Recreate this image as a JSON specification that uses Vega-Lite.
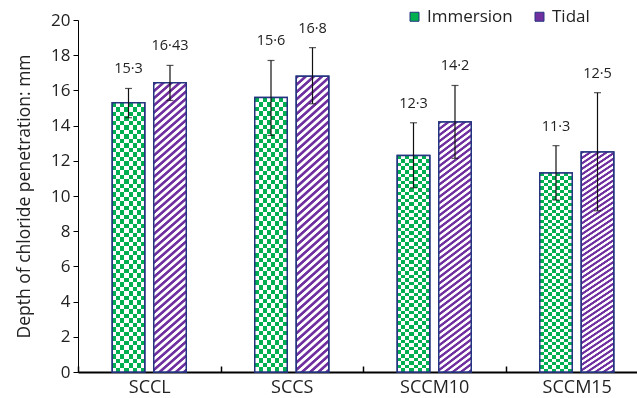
{
  "$schema": "https://vega.github.io/schema/vega-lite/v6.json",
  "autosize": {"type": "none"},
  "width": 559,
  "height": 352,
  "padding": {"left": 78, "top": 20, "right": 0, "bottom": 26},
  "background": "white",
  "config": {"view": {"stroke": null}, "font": "Open Sans"},
  "data": {"values": [
    {"cat": "SCCL", "series": "Immersion", "value": 15.3, "lo": 14.45, "hi": 16.11, "label": "15·3"},
    {"cat": "SCCL", "series": "Tidal", "value": 16.43, "lo": 15.43, "hi": 17.42, "label": "16·43"},
    {"cat": "SCCS", "series": "Immersion", "value": 15.6, "lo": 13.44, "hi": 17.7, "label": "15·6"},
    {"cat": "SCCS", "series": "Tidal", "value": 16.8, "lo": 15.24, "hi": 18.43, "label": "16·8"},
    {"cat": "SCCM10", "series": "Immersion", "value": 12.3, "lo": 10.47, "hi": 14.16, "label": "12·3"},
    {"cat": "SCCM10", "series": "Tidal", "value": 14.2, "lo": 12.14, "hi": 16.28, "label": "14·2"},
    {"cat": "SCCM15", "series": "Immersion", "value": 11.3, "lo": 9.77, "hi": 12.86, "label": "11·3"},
    {"cat": "SCCM15", "series": "Tidal", "value": 12.5, "lo": 9.16, "hi": 15.87, "label": "12·5"}
  ]},
  "encoding": {
    "x": {"field": "cat", "type": "nominal", "sort": ["SCCL", "SCCS", "SCCM10", "SCCM15"],
      "scale": {"range": [0, 570], "paddingInner": 0, "paddingOuter": 0},
      "axis": {"title": null, "labelAngle": 0, "domainColor": "#000", "domainWidth": 2, "tickColor": "#000", "tickWidth": 1.5, "tickBand": "extent", "tickSize": -6, "labelFontSize": 18, "labelColor": "#222", "labelPadding": 12}},
    "xOffset": {"field": "series", "type": "nominal", "scale": {"domain": ["Immersion", "Tidal"], "paddingInner": 0.217, "paddingOuter": 0.8255}},
    "y": {"field": "value", "type": "quantitative", "title": "Depth of chloride penetration: mm",
      "scale": {"domain": [0, 20], "nice": false},
      "axis": {"values": [0, 2, 4, 6, 8, 10, 12, 14, 16, 18, 20], "grid": false, "domainColor": "#000", "tickColor": "#000", "tickSize": 5, "labelFontSize": 17, "labelColor": "#222", "labelPadding": 3, "titleFontSize": 17.5, "titleFontWeight": "normal", "titleColor": "#222", "titlePadding": 17}}
  },
  "layer": [
    {"mark": {"type": "bar", "stroke": "#253580", "strokeWidth": 1.5},
     "encoding": {"color": {"field": "series", "type": "nominal",
       "scale": {"domain": ["Immersion", "Tidal"], "range": ["#00b050", "#7030a0"]},
       "legend": {"title": null, "orient": "none", "legendX": 328, "legendY": -12, "direction": "horizontal", "symbolType": "square", "symbolSize": 81, "symbolStrokeColor": "#253580", "symbolStrokeWidth": 1, "labelFontSize": 17, "labelColor": "#222", "columnPadding": 18, "labelOffset": 4}}}},
    {"transform": [{"filter": "datum.series === 'Immersion'"}],
     "mark": {"type": "bar", "fill": {"gradient": "linear", "x1": 0, "y1": 0, "x2": 1, "y2": 0, "stops": [
       {"offset": 0, "color": "#000000"}, {"offset": 0.125, "color": "#000000"}, {"offset": 0.125, "color": "#ffffff"}, {"offset": 0.25, "color": "#ffffff"},
       {"offset": 0.25, "color": "#000000"}, {"offset": 0.375, "color": "#000000"}, {"offset": 0.375, "color": "#ffffff"}, {"offset": 0.5, "color": "#ffffff"},
       {"offset": 0.5, "color": "#000000"}, {"offset": 0.625, "color": "#000000"}, {"offset": 0.625, "color": "#ffffff"}, {"offset": 0.75, "color": "#ffffff"},
       {"offset": 0.75, "color": "#000000"}, {"offset": 0.875, "color": "#000000"}, {"offset": 0.875, "color": "#ffffff"}, {"offset": 1, "color": "#ffffff"}
     ]}}},
    {"transform": [{"filter": "datum.series === 'Immersion'"}],
     "mark": {"type": "bar", "blend": "difference", "fill": {"gradient": "linear", "x1": 0, "y1": 0, "x2": 0, "y2": 1, "stops": [
       {"offset": 0, "color": "#000000"}, {"offset": 0.0167, "color": "#000000"}, {"offset": 0.0167, "color": "#ffffff"}, {"offset": 0.0333, "color": "#ffffff"},
       {"offset": 0.0333, "color": "#000000"}, {"offset": 0.05, "color": "#000000"}, {"offset": 0.05, "color": "#ffffff"}, {"offset": 0.0667, "color": "#ffffff"},
       {"offset": 0.0667, "color": "#000000"}, {"offset": 0.0833, "color": "#000000"}, {"offset": 0.0833, "color": "#ffffff"}, {"offset": 0.1, "color": "#ffffff"},
       {"offset": 0.1, "color": "#000000"}, {"offset": 0.1167, "color": "#000000"}, {"offset": 0.1167, "color": "#ffffff"}, {"offset": 0.1333, "color": "#ffffff"},
       {"offset": 0.1333, "color": "#000000"}, {"offset": 0.15, "color": "#000000"}, {"offset": 0.15, "color": "#ffffff"}, {"offset": 0.1667, "color": "#ffffff"},
       {"offset": 0.1667, "color": "#000000"}, {"offset": 0.1833, "color": "#000000"}, {"offset": 0.1833, "color": "#ffffff"}, {"offset": 0.2, "color": "#ffffff"},
       {"offset": 0.2, "color": "#000000"}, {"offset": 0.2167, "color": "#000000"}, {"offset": 0.2167, "color": "#ffffff"}, {"offset": 0.2333, "color": "#ffffff"},
       {"offset": 0.2333, "color": "#000000"}, {"offset": 0.25, "color": "#000000"}, {"offset": 0.25, "color": "#ffffff"}, {"offset": 0.2667, "color": "#ffffff"},
       {"offset": 0.2667, "color": "#000000"}, {"offset": 0.2833, "color": "#000000"}, {"offset": 0.2833, "color": "#ffffff"}, {"offset": 0.3, "color": "#ffffff"},
       {"offset": 0.3, "color": "#000000"}, {"offset": 0.3167, "color": "#000000"}, {"offset": 0.3167, "color": "#ffffff"}, {"offset": 0.3333, "color": "#ffffff"},
       {"offset": 0.3333, "color": "#000000"}, {"offset": 0.35, "color": "#000000"}, {"offset": 0.35, "color": "#ffffff"}, {"offset": 0.3667, "color": "#ffffff"},
       {"offset": 0.3667, "color": "#000000"}, {"offset": 0.3833, "color": "#000000"}, {"offset": 0.3833, "color": "#ffffff"}, {"offset": 0.4, "color": "#ffffff"},
       {"offset": 0.4, "color": "#000000"}, {"offset": 0.4167, "color": "#000000"}, {"offset": 0.4167, "color": "#ffffff"}, {"offset": 0.4333, "color": "#ffffff"},
       {"offset": 0.4333, "color": "#000000"}, {"offset": 0.45, "color": "#000000"}, {"offset": 0.45, "color": "#ffffff"}, {"offset": 0.4667, "color": "#ffffff"},
       {"offset": 0.4667, "color": "#000000"}, {"offset": 0.4833, "color": "#000000"}, {"offset": 0.4833, "color": "#ffffff"}, {"offset": 0.5, "color": "#ffffff"},
       {"offset": 0.5, "color": "#000000"}, {"offset": 0.5167, "color": "#000000"}, {"offset": 0.5167, "color": "#ffffff"}, {"offset": 0.5333, "color": "#ffffff"},
       {"offset": 0.5333, "color": "#000000"}, {"offset": 0.55, "color": "#000000"}, {"offset": 0.55, "color": "#ffffff"}, {"offset": 0.5667, "color": "#ffffff"},
       {"offset": 0.5667, "color": "#000000"}, {"offset": 0.5833, "color": "#000000"}, {"offset": 0.5833, "color": "#ffffff"}, {"offset": 0.6, "color": "#ffffff"},
       {"offset": 0.6, "color": "#000000"}, {"offset": 0.6167, "color": "#000000"}, {"offset": 0.6167, "color": "#ffffff"}, {"offset": 0.6333, "color": "#ffffff"},
       {"offset": 0.6333, "color": "#000000"}, {"offset": 0.65, "color": "#000000"}, {"offset": 0.65, "color": "#ffffff"}, {"offset": 0.6667, "color": "#ffffff"},
       {"offset": 0.6667, "color": "#000000"}, {"offset": 0.6833, "color": "#000000"}, {"offset": 0.6833, "color": "#ffffff"}, {"offset": 0.7, "color": "#ffffff"},
       {"offset": 0.7, "color": "#000000"}, {"offset": 0.7167, "color": "#000000"}, {"offset": 0.7167, "color": "#ffffff"}, {"offset": 0.7333, "color": "#ffffff"},
       {"offset": 0.7333, "color": "#000000"}, {"offset": 0.75, "color": "#000000"}, {"offset": 0.75, "color": "#ffffff"}, {"offset": 0.7667, "color": "#ffffff"},
       {"offset": 0.7667, "color": "#000000"}, {"offset": 0.7833, "color": "#000000"}, {"offset": 0.7833, "color": "#ffffff"}, {"offset": 0.8, "color": "#ffffff"},
       {"offset": 0.8, "color": "#000000"}, {"offset": 0.8167, "color": "#000000"}, {"offset": 0.8167, "color": "#ffffff"}, {"offset": 0.8333, "color": "#ffffff"},
       {"offset": 0.8333, "color": "#000000"}, {"offset": 0.85, "color": "#000000"}, {"offset": 0.85, "color": "#ffffff"}, {"offset": 0.8667, "color": "#ffffff"},
       {"offset": 0.8667, "color": "#000000"}, {"offset": 0.8833, "color": "#000000"}, {"offset": 0.8833, "color": "#ffffff"}, {"offset": 0.9, "color": "#ffffff"},
       {"offset": 0.9, "color": "#000000"}, {"offset": 0.9167, "color": "#000000"}, {"offset": 0.9167, "color": "#ffffff"}, {"offset": 0.9333, "color": "#ffffff"},
       {"offset": 0.9333, "color": "#000000"}, {"offset": 0.95, "color": "#000000"}, {"offset": 0.95, "color": "#ffffff"}, {"offset": 0.9667, "color": "#ffffff"},
       {"offset": 0.9667, "color": "#000000"}, {"offset": 0.9833, "color": "#000000"}, {"offset": 0.9833, "color": "#ffffff"}, {"offset": 1, "color": "#ffffff"}
     ]}}},
    {"transform": [{"filter": "datum.series === 'Immersion'"}],
     "mark": {"type": "bar", "fill": "#00b050", "blend": "screen"}},
    {"transform": [{"filter": "datum.series === 'Tidal'"}],
     "mark": {"type": "bar", "fill": {"gradient": "linear", "x1": 0, "y1": 0, "x2": 0.1072, "y2": 1.0879, "stops": [
       {"offset": 0, "color": "#7030a0"}, {"offset": 0.008, "color": "#7030a0"}, {"offset": 0.011, "color": "#ffffff"}, {"offset": 0.0195, "color": "#ffffff"},
       {"offset": 0.0225, "color": "#7030a0"}, {"offset": 0.0305, "color": "#7030a0"}, {"offset": 0.0335, "color": "#ffffff"}, {"offset": 0.042, "color": "#ffffff"},
       {"offset": 0.045, "color": "#7030a0"}, {"offset": 0.053, "color": "#7030a0"}, {"offset": 0.056, "color": "#ffffff"}, {"offset": 0.0645, "color": "#ffffff"},
       {"offset": 0.0675, "color": "#7030a0"}, {"offset": 0.0755, "color": "#7030a0"}, {"offset": 0.0785, "color": "#ffffff"}, {"offset": 0.087, "color": "#ffffff"},
       {"offset": 0.09, "color": "#7030a0"}, {"offset": 0.098, "color": "#7030a0"}, {"offset": 0.101, "color": "#ffffff"}, {"offset": 0.1095, "color": "#ffffff"},
       {"offset": 0.1125, "color": "#7030a0"}, {"offset": 0.1205, "color": "#7030a0"}, {"offset": 0.1235, "color": "#ffffff"}, {"offset": 0.132, "color": "#ffffff"},
       {"offset": 0.135, "color": "#7030a0"}, {"offset": 0.143, "color": "#7030a0"}, {"offset": 0.146, "color": "#ffffff"}, {"offset": 0.1545, "color": "#ffffff"},
       {"offset": 0.1575, "color": "#7030a0"}, {"offset": 0.1655, "color": "#7030a0"}, {"offset": 0.1685, "color": "#ffffff"}, {"offset": 0.177, "color": "#ffffff"},
       {"offset": 0.18, "color": "#7030a0"}, {"offset": 0.188, "color": "#7030a0"}, {"offset": 0.191, "color": "#ffffff"}, {"offset": 0.1995, "color": "#ffffff"},
       {"offset": 0.2025, "color": "#7030a0"}, {"offset": 0.2105, "color": "#7030a0"}, {"offset": 0.2135, "color": "#ffffff"}, {"offset": 0.222, "color": "#ffffff"},
       {"offset": 0.225, "color": "#7030a0"}, {"offset": 0.233, "color": "#7030a0"}, {"offset": 0.236, "color": "#ffffff"}, {"offset": 0.2445, "color": "#ffffff"},
       {"offset": 0.2475, "color": "#7030a0"}, {"offset": 0.2555, "color": "#7030a0"}, {"offset": 0.2585, "color": "#ffffff"}, {"offset": 0.267, "color": "#ffffff"},
       {"offset": 0.27, "color": "#7030a0"}, {"offset": 0.278, "color": "#7030a0"}, {"offset": 0.281, "color": "#ffffff"}, {"offset": 0.2895, "color": "#ffffff"},
       {"offset": 0.2925, "color": "#7030a0"}, {"offset": 0.3005, "color": "#7030a0"}, {"offset": 0.3035, "color": "#ffffff"}, {"offset": 0.312, "color": "#ffffff"},
       {"offset": 0.315, "color": "#7030a0"}, {"offset": 0.323, "color": "#7030a0"}, {"offset": 0.326, "color": "#ffffff"}, {"offset": 0.3345, "color": "#ffffff"},
       {"offset": 0.3375, "color": "#7030a0"}, {"offset": 0.3455, "color": "#7030a0"}, {"offset": 0.3485, "color": "#ffffff"}, {"offset": 0.357, "color": "#ffffff"},
       {"offset": 0.36, "color": "#7030a0"}, {"offset": 0.368, "color": "#7030a0"}, {"offset": 0.371, "color": "#ffffff"}, {"offset": 0.3795, "color": "#ffffff"},
       {"offset": 0.3825, "color": "#7030a0"}, {"offset": 0.3905, "color": "#7030a0"}, {"offset": 0.3935, "color": "#ffffff"}, {"offset": 0.402, "color": "#ffffff"},
       {"offset": 0.405, "color": "#7030a0"}, {"offset": 0.413, "color": "#7030a0"}, {"offset": 0.416, "color": "#ffffff"}, {"offset": 0.4245, "color": "#ffffff"},
       {"offset": 0.4275, "color": "#7030a0"}, {"offset": 0.4355, "color": "#7030a0"}, {"offset": 0.4385, "color": "#ffffff"}, {"offset": 0.447, "color": "#ffffff"},
       {"offset": 0.45, "color": "#7030a0"}, {"offset": 0.458, "color": "#7030a0"}, {"offset": 0.461, "color": "#ffffff"}, {"offset": 0.4695, "color": "#ffffff"},
       {"offset": 0.4725, "color": "#7030a0"}, {"offset": 0.4805, "color": "#7030a0"}, {"offset": 0.4835, "color": "#ffffff"}, {"offset": 0.492, "color": "#ffffff"},
       {"offset": 0.495, "color": "#7030a0"}, {"offset": 0.503, "color": "#7030a0"}, {"offset": 0.506, "color": "#ffffff"}, {"offset": 0.5145, "color": "#ffffff"},
       {"offset": 0.5175, "color": "#7030a0"}, {"offset": 0.5255, "color": "#7030a0"}, {"offset": 0.5285, "color": "#ffffff"}, {"offset": 0.537, "color": "#ffffff"},
       {"offset": 0.54, "color": "#7030a0"}, {"offset": 0.548, "color": "#7030a0"}, {"offset": 0.551, "color": "#ffffff"}, {"offset": 0.5595, "color": "#ffffff"},
       {"offset": 0.5625, "color": "#7030a0"}, {"offset": 0.5705, "color": "#7030a0"}, {"offset": 0.5735, "color": "#ffffff"}, {"offset": 0.582, "color": "#ffffff"},
       {"offset": 0.585, "color": "#7030a0"}, {"offset": 0.593, "color": "#7030a0"}, {"offset": 0.596, "color": "#ffffff"}, {"offset": 0.6045, "color": "#ffffff"},
       {"offset": 0.6075, "color": "#7030a0"}, {"offset": 0.6155, "color": "#7030a0"}, {"offset": 0.6185, "color": "#ffffff"}, {"offset": 0.627, "color": "#ffffff"},
       {"offset": 0.63, "color": "#7030a0"}, {"offset": 0.638, "color": "#7030a0"}, {"offset": 0.641, "color": "#ffffff"}, {"offset": 0.6495, "color": "#ffffff"},
       {"offset": 0.6525, "color": "#7030a0"}, {"offset": 0.6605, "color": "#7030a0"}, {"offset": 0.6635, "color": "#ffffff"}, {"offset": 0.672, "color": "#ffffff"},
       {"offset": 0.675, "color": "#7030a0"}, {"offset": 0.683, "color": "#7030a0"}, {"offset": 0.686, "color": "#ffffff"}, {"offset": 0.6945, "color": "#ffffff"},
       {"offset": 0.6975, "color": "#7030a0"}, {"offset": 0.7055, "color": "#7030a0"}, {"offset": 0.7085, "color": "#ffffff"}, {"offset": 0.717, "color": "#ffffff"},
       {"offset": 0.72, "color": "#7030a0"}, {"offset": 0.728, "color": "#7030a0"}, {"offset": 0.731, "color": "#ffffff"}, {"offset": 0.7395, "color": "#ffffff"},
       {"offset": 0.7425, "color": "#7030a0"}, {"offset": 0.7505, "color": "#7030a0"}, {"offset": 0.7535, "color": "#ffffff"}, {"offset": 0.762, "color": "#ffffff"},
       {"offset": 0.765, "color": "#7030a0"}, {"offset": 0.773, "color": "#7030a0"}, {"offset": 0.776, "color": "#ffffff"}, {"offset": 0.7845, "color": "#ffffff"},
       {"offset": 0.7875, "color": "#7030a0"}, {"offset": 0.7955, "color": "#7030a0"}, {"offset": 0.7985, "color": "#ffffff"}, {"offset": 0.807, "color": "#ffffff"},
       {"offset": 0.81, "color": "#7030a0"}, {"offset": 0.818, "color": "#7030a0"}, {"offset": 0.821, "color": "#ffffff"}, {"offset": 0.8295, "color": "#ffffff"},
       {"offset": 0.8325, "color": "#7030a0"}, {"offset": 0.8405, "color": "#7030a0"}, {"offset": 0.8435, "color": "#ffffff"}, {"offset": 0.852, "color": "#ffffff"},
       {"offset": 0.855, "color": "#7030a0"}, {"offset": 0.863, "color": "#7030a0"}, {"offset": 0.866, "color": "#ffffff"}, {"offset": 0.8745, "color": "#ffffff"},
       {"offset": 0.8775, "color": "#7030a0"}, {"offset": 0.8855, "color": "#7030a0"}, {"offset": 0.8885, "color": "#ffffff"}, {"offset": 0.897, "color": "#ffffff"},
       {"offset": 0.9, "color": "#7030a0"}, {"offset": 0.908, "color": "#7030a0"}, {"offset": 0.911, "color": "#ffffff"}, {"offset": 0.9195, "color": "#ffffff"},
       {"offset": 0.9225, "color": "#7030a0"}, {"offset": 0.9305, "color": "#7030a0"}, {"offset": 0.9335, "color": "#ffffff"}, {"offset": 0.942, "color": "#ffffff"},
       {"offset": 0.945, "color": "#7030a0"}, {"offset": 0.953, "color": "#7030a0"}, {"offset": 0.956, "color": "#ffffff"}, {"offset": 0.9645, "color": "#ffffff"},
       {"offset": 0.9675, "color": "#7030a0"}, {"offset": 0.9755, "color": "#7030a0"}, {"offset": 0.9785, "color": "#ffffff"}, {"offset": 0.987, "color": "#ffffff"},
       {"offset": 0.99, "color": "#7030a0"}, {"offset": 0.998, "color": "#7030a0"}, {"offset": 1, "color": "#ffffff"}
     ]}}},
    {"mark": {"type": "bar", "fill": "transparent", "stroke": "#253580", "strokeWidth": 1.5}},
    {"mark": {"type": "rule", "color": "#111111", "strokeWidth": 1.2},
     "encoding": {"y": {"field": "lo", "type": "quantitative", "title": "Depth of chloride penetration: mm"}, "y2": {"field": "hi"}}},
    {"mark": {"type": "tick", "color": "#111111", "size": 7, "thickness": 1.2, "orient": "horizontal"},
     "encoding": {"y": {"field": "hi", "type": "quantitative", "title": "Depth of chloride penetration: mm"}}},
    {"mark": {"type": "tick", "color": "#111111", "size": 7, "thickness": 1.2, "orient": "horizontal"},
     "encoding": {"y": {"field": "lo", "type": "quantitative", "title": "Depth of chloride penetration: mm"}}},
    {"mark": {"type": "text", "dy": -19, "baseline": "middle", "fontSize": 14.5, "color": "#222222"},
     "encoding": {"y": {"field": "hi", "type": "quantitative", "title": "Depth of chloride penetration: mm"}, "text": {"field": "label"}}}
  ]
}
